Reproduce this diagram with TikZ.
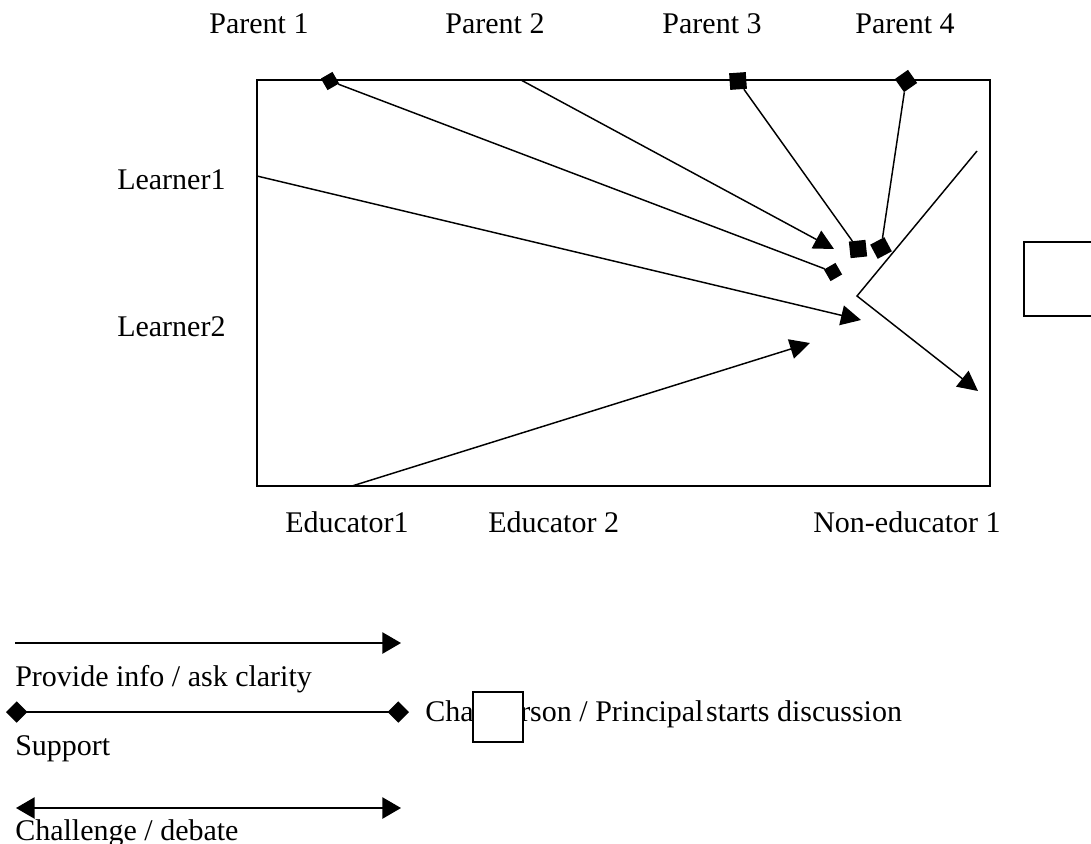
\documentclass[tikz,border=0pt]{standalone}
\usepackage{fontspec}
\setmainfont{Liberation Serif}
\usetikzlibrary{arrows.meta}
\begin{document}
\begin{tikzpicture}[x=0.75pt,y=-0.75pt,
  lbl/.style={inner sep=0pt,font=\fontsize{22.5}{26}\selectfont},
  conn/.style={line width=1.1pt},
  tri/.style={-{Triangle[length=15pt,width=15pt]}},
  sqmark/.style={fill=black,inner sep=0pt,minimum size=#1},
  frame/.style={line width=1.3pt}]
\useasboundingbox (0,0) rectangle (1091,843);
\clip (0,0) rectangle (1091,843);
% frame
\draw[frame] (257,80) rectangle (990,486);
\draw[frame] (1024,242) rectangle (1110,316);
% labels
\node[lbl,anchor=base] (p1) at (259,33) {Parent 1};
\node[lbl,anchor=base] (p2) at (495,33) {Parent 2};
\node[lbl,anchor=base] (p3) at (712,33) {Parent 3};
\node[lbl,anchor=base] (p4) at (905,33) {Parent 4};
\node[lbl,anchor=base west] (l1) at (117,189) {Learner1};
\node[lbl,anchor=base west] (l2) at (117,336) {Learner2};
\node[lbl,anchor=base west] (e1) at (285,532) {Educator1};
\node[lbl,anchor=base west] (e2) at (488,532) {Educator 2};
\node[lbl,anchor=base west] (n1) at (813,532) {Non-educator 1};
% end markers
\node[sqmark=10pt,rotate=30] (a1) at (330,81) {};
\node[sqmark=10pt,rotate=30] (b1) at (833,272) {};
\node[sqmark=12.5pt,rotate=4] (a3) at (738,81) {};
\node[sqmark=12.5pt,rotate=6] (b3) at (858,249) {};
\node[sqmark=12pt,rotate=35] (a4) at (906,81) {};
\node[sqmark=12pt,rotate=28] (b4) at (881,248) {};
% connector end points
\coordinate (a2) at (521,80);  \coordinate (b2) at (834,249);
\coordinate (a5) at (257,176); \coordinate (b5) at (861,320);
\coordinate (a6) at (352,486); \coordinate (b6) at (810,343);
\coordinate (a7) at (977,151); \coordinate (m7) at (857,296); \coordinate (b7) at (978,391);
\draw[conn] (a1) -- (b1);
\draw[conn,tri] (a2) -- (b2);
\draw[conn] (a3) -- (b3);
\draw[conn] (a4) -- (b4);
\draw[conn,tri] (a5) -- (b5);
\draw[conn,tri] (a6) -- (b6);
\draw[conn,tri] (a7) -- (m7) -- (b7);
% legend
\coordinate (la1) at (15,643);  \coordinate (lb1) at (401,643);
\coordinate (la2) at (6,712);   \coordinate (lb2) at (409,712);
\coordinate (la3) at (16,808);  \coordinate (lb3) at (401,808);
\draw[conn,-{Triangle[length=14pt,width=16pt]}] (la1) -- (lb1);
\draw[conn,{Diamond[length=16pt,width=16pt]}-{Diamond[length=16pt,width=16pt]}] (la2) -- (lb2);
\draw[conn,{Triangle[length=14pt,width=16pt]}-{Triangle[length=14pt,width=16pt]}] (la3) -- (lb3);
\node[lbl,anchor=base west] (t1) at (15,686) {Provide info / ask clarity};
\node[lbl,anchor=base west] (t2) at (15,755) {Support};
\node[lbl,anchor=base west] (t3) at (15,840) {Challenge / debate};
\node[lbl,anchor=base west] (t4) at (425,721) {Chairperson / Principal\hspace{2pt}starts discussion};
\draw[frame,fill=white] (473,692) rectangle (523,742);
\end{tikzpicture}
\end{document}
